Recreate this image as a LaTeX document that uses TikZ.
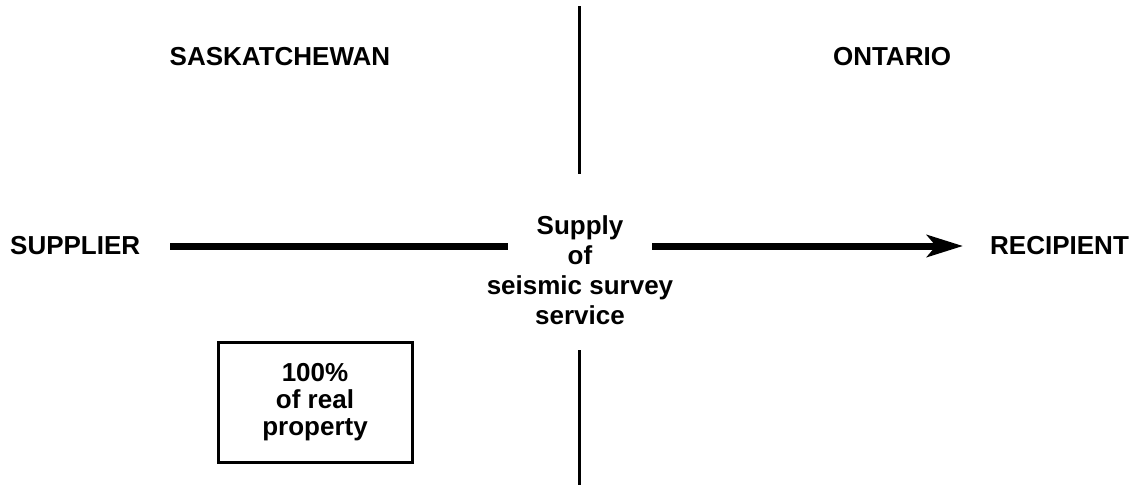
\documentclass[tikz,border=0pt]{standalone}
\usepackage{fontspec}
\setmainfont{Liberation Sans}
\usetikzlibrary{arrows.meta}
\begin{document}
\begin{tikzpicture}[x=1pt,y=-1pt,
  lbl/.style={font=\fontsize{26}{30}\selectfont\bfseries, inner sep=0pt},
  flow/.style={line width=7pt},
  border/.style={line width=3pt},
  infobox/.style={draw, line width=3pt, minimum width=194pt, minimum height=120pt,
    align=center, inner sep=0pt, font=\fontsize{26}{27}\selectfont\bfseries}]
\useasboundingbox (0,0) rectangle (1135,485);

% provincial border
\coordinate (btop) at (579,6);
\coordinate (bmid1) at (579,174);
\coordinate (bmid2) at (579,350);
\coordinate (bbot) at (579,485);
\draw[border] (btop) -- (bmid1);
\draw[border] (bmid2) -- (bbot);

% province names
\node[lbl, anchor=base] (sask) at (280,65) {SASKATCHEWAN};
\node[lbl, anchor=base] (ont) at (892,65) {ONTARIO};

% parties and supply
\node[lbl, anchor=west] (supplier) at (10,246) {SUPPLIER};
\node[lbl, anchor=west] (recipient) at (990,246) {RECIPIENT};
\node[lbl, align=center] (supply) at (580,270) {Supply\\of\\seismic survey\\service};

\draw[flow, shorten <=30pt, shorten >=-21pt] (supplier.east) -- (supplier.east -| supply.west);
\draw[flow, shorten <=-21pt, shorten >=27pt, -{Stealth[length=36pt, width=22pt, inset=9pt]}]
  (supply.east |- recipient.west) -- (recipient.west);

% place of the real property
\node[infobox] (box) at (315,402) {100\%\\of real\\property};
\end{tikzpicture}
\end{document}
